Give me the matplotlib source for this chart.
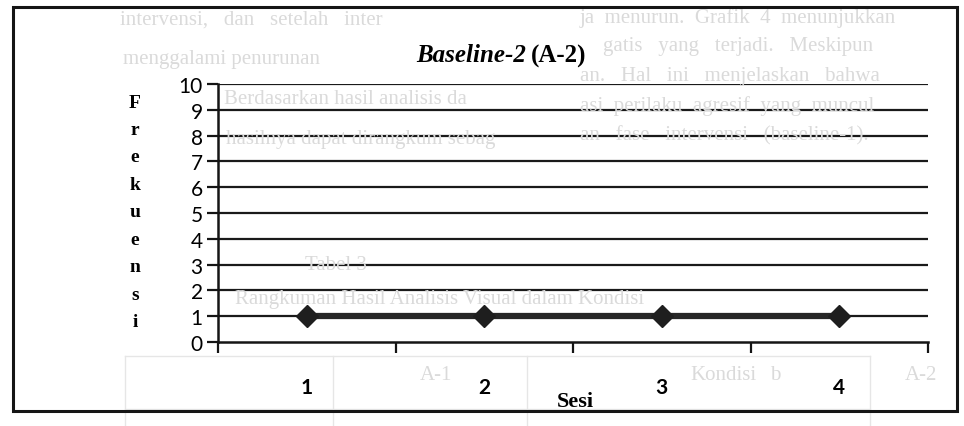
import matplotlib.pyplot as plt
from matplotlib.patches import Rectangle

sesi = [1, 2, 3, 4]
sesi_labels = ['1', '2', '3', '4']
frekuensi = [1, 1, 1, 1]
y_ticks = list(range(0, 11))

W, H = 964, 427
fig = plt.figure(figsize=(W / 100, H / 100), dpi=100)
fig.patch.set_facecolor('white')


def fx(px):
    return px / W


def fy(py):
    return 1 - py / H


# faint text showing through from the other side of the page
ghost = '#dadada'
ghost_lines = [
    (120, 20, 'intervensi,   dan   setelah   inter'),
    (123, 60, 'menggalami penurunan'),
    (224, 100, 'Berdasarkan hasil analisis da'),
    (226, 140, 'hasilnya dapat dirangkum sebag'),
    (580, 18, 'ja  menurun.  Grafik  4  menunjukkan'),
    (603, 47, 'gatis   yang   terjadi.   Meskipun'),
    (580, 76, 'an.   Hal   ini   menjelaskan   bahwa'),
    (580, 106, 'asi  perilaku  agresif  yang  muncul'),
    (580, 136, 'an   fase   intervensi   (baseline-1).'),
    (305, 265, 'Tabel 3'),
    (235, 300, 'Rangkuman Hasil Analisis Visual dalam Kondisi'),
    (420, 376, 'A-1'),
    (690, 376, 'Kondisi'),
    (770, 376, 'b'),
    (905, 376, 'A-2'),
]
for gx, gy, txt in ghost_lines:
    fig.text(fx(gx), fy(gy), txt, color=ghost, fontsize=15,
             family='Liberation Serif', ha='left', va='center', zorder=0)
for gy in (357, 410):
    fig.add_artist(plt.Line2D([fx(125), fx(870)], [fy(gy), fy(gy)],
                              color='#e6e6e6', lw=1, zorder=0))
for gx in (125, 333, 527, 870):
    fig.add_artist(plt.Line2D([fx(gx), fx(gx)], [fy(357), fy(427)],
                              color='#e6e6e6', lw=1, zorder=0))

# outer frame of the chart
fig.add_artist(Rectangle((fx(13), fy(412)), fx(944), fy(8) - fy(412),
                         transform=fig.transFigure, fill=False,
                         edgecolor='#151515', lw=2.2, zorder=1))

ax = fig.add_axes([fx(218), fy(343), fx(928) - fx(218), fy(85) - fy(343)])
ax.patch.set_alpha(0)

ax.plot(sesi, frekuensi, color='#262626', lw=4.5, marker='D',
        markersize=11.5, markerfacecolor='#1e1e1e', markeredgecolor='#1e1e1e',
        zorder=5, clip_on=False)

ax.set_xlim(0.5, 4.5)
ax.set_ylim(0, 10)
ax.set_yticks(y_ticks)
ax.set_yticklabels([str(v) for v in y_ticks], family='Lato', fontsize=15)
ax.set_xticks(sesi)
ax.set_xticklabels(sesi_labels, family='Lato', fontsize=15, fontweight='bold')
ax.set_xticks([0.5, 1.5, 2.5, 3.5, 4.5], minor=True)
ax.tick_params(axis='x', which='major', length=0, pad=25)
ax.tick_params(axis='x', which='minor', length=8, width=1.6, direction='out',
               color='#151515')
ax.tick_params(axis='y', length=8, width=1.6, direction='out', pad=3,
               color='#151515')

for v in y_ticks[1:]:
    ax.axhline(v, color='#1a1a1a', lw=1.6, zorder=2)

for side in ('top', 'right'):
    ax.spines[side].set_visible(False)
for side in ('left', 'bottom'):
    ax.spines[side].set_linewidth(1.8)
    ax.spines[side].set_color('#151515')

# title: italic part and plain part
fig.text(fx(526), fy(56), 'Baseline-2', family='Liberation Serif',
         fontsize=18, fontweight='bold', style='italic', ha='right',
         va='center')
fig.text(fx(531), fy(56), '(A-2)', family='Liberation Serif',
         fontsize=18, fontweight='bold', ha='left', va='center')

fig.text(fx(575), fy(402), 'Sesi', family='Liberation Serif', fontsize=16,
         fontweight='bold', ha='center', va='center')

# vertical y label, one letter per line
for i, ch in enumerate('Frekuensi'):
    fig.text(fx(135), fy(103 + i * 27.5), ch, family='Liberation Serif',
             fontsize=14, fontweight='bold', ha='center', va='center')

fig.savefig('out.png', dpi=100)
